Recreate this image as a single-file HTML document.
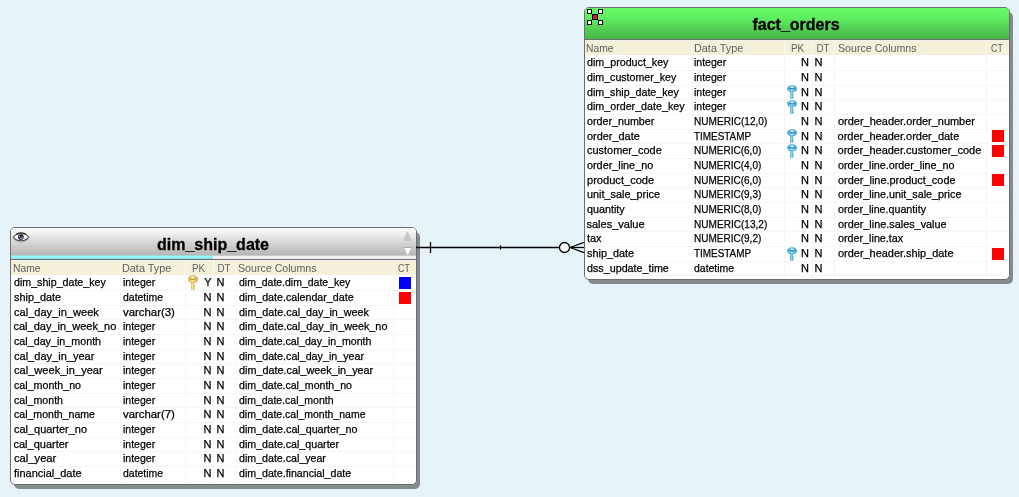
<!DOCTYPE html>
<html><head><meta charset="utf-8"><title>diagram</title>
<style>
html,body{margin:0;padding:0}
body{width:1019px;height:497px;background:#e6f4fa;position:relative;overflow:hidden;font-family:"Liberation Sans", sans-serif;font-size:11px;color:#000}
.shadow{position:absolute;background:#858b8d;border-radius:5px}
.box{position:absolute;border:1px solid #6e6e6e;border-radius:5px;background:#fff;overflow:hidden}
.title{position:relative;width:100%}
.title.gray{background:linear-gradient(#ffffff 0%,#f6f6f6 12%,#e0e0e0 40%,#cacaca 70%,#b7b7b7 100%)}
.title.green{background:linear-gradient(#66fb66 0%,#5fec5f 35%,#50c850 75%,#47b847 100%)}
.tt{position:absolute;width:100%;text-align:center;font-weight:bold;font-size:16px;line-height:18px;top:8px;-webkit-text-stroke:0.3px #000}
.prog{height:4px;background:linear-gradient(#c9c9c9 0,#c9c9c9 1px,#f4f4f4 1px,#ececec 4px);position:relative}
.progfill{position:absolute;left:0;top:0;height:4px;width:202px;background:linear-gradient(#a8d4d4 0,#a8d4d4 1px,#99ffff 1px,#86e2e2 4px)}
.sep{height:1px;background:#6e6e6e}
.hdr{position:relative;height:15px;background:#f5f0da;color:#5e5e5e;line-height:14px;box-shadow:inset 0 1px 0 #f2f2ee}
.h{position:absolute;top:1px;white-space:nowrap;transform-origin:0 50%}
.body{position:relative}
.row{position:absolute;left:0;right:0;height:14px;line-height:14px;white-space:nowrap}
.c{position:absolute;top:0;white-space:pre;transform-origin:0 50%;-webkit-text-stroke:0.25px #000}
.hl{position:absolute;left:0;right:0;height:1px;background:#f6f6f6}
.vl{position:absolute;top:47px;bottom:0;width:1px;background:#f6f6f6}
.vlh{position:absolute;top:32px;height:15px;width:1px;background:rgba(255,255,255,0.45)}
.sq{position:absolute;width:12px;height:12px}
.key{position:absolute}
.row,.hdr,.title{will-change:transform}
</style></head><body>
<svg width="0" height="0" style="position:absolute">
<defs>
<linearGradient id="gg" x1="0" y1="0" x2="1" y2="0"><stop offset="0" stop-color="#ddb040"/><stop offset="0.45" stop-color="#fbe9a6"/><stop offset="1" stop-color="#d9a836"/></linearGradient>
<linearGradient id="bg" x1="0" y1="0" x2="1" y2="0"><stop offset="0" stop-color="#3fa6d2"/><stop offset="0.45" stop-color="#9fe0f4"/><stop offset="1" stop-color="#3a9fcc"/></linearGradient>
<g id="keyg">
<rect x="3.1" y="7" width="3" height="8" rx="0.7" fill="url(#gg)"/>
<path d="M6.1 9.6l1.2 .55-1.2 .55zM6.1 11.3l1.2 .55-1.2 .55zM6.1 13l1.2 .55-1.2 .55z" fill="#d3a233"/>
<ellipse cx="5" cy="4.15" rx="4.6" ry="3.5" fill="url(#gg)" stroke="#dcae42" stroke-width="0.8"/>
<ellipse cx="5" cy="3.7" rx="2.9" ry="1.25" fill="#b09c2a"/>
<ellipse cx="5" cy="3" rx="2.1" ry="0.75" fill="#fff"/>
</g>
<g id="keyb">
<rect x="3" y="6.5" width="2.9" height="7.5" rx="0.7" fill="url(#bg)"/>
<path d="M5.9 8.9l1.3 .55-1.3 .55zM5.9 10.5l1.3 .55-1.3 .55zM5.9 12.1l1.3 .55-1.3 .55z" fill="#3a9fcc"/>
<ellipse cx="5.1" cy="3.75" rx="4.55" ry="3.05" fill="url(#bg)" stroke="#44a7d5" stroke-width="0.8"/>
<ellipse cx="5.1" cy="3.3" rx="3" ry="1.25" fill="#2a84be"/>
<ellipse cx="5.1" cy="2.6" rx="2" ry="0.7" fill="#fff"/>
</g>
</defs></svg>

<div class="shadow" style="left:14px;top:232px;width:406px;height:257px"></div>
<div class="box" id="b1" style="left:10px;top:227px;width:405px;height:256px">
<div class="title gray" style="height:27px"><span class="tt" style="left:-0.5px">dim_ship_date</span></div>
<div class="prog"><div class="progfill"></div></div>
<div class="sep"></div>
<div class="hdr">
<span class="h" style="left:2px;transform:scaleX(0.9395)">Name</span>
<span class="h" style="left:111px;transform:scaleX(0.9859)">Data Type</span>
<span class="h" style="left:173.8px;width:27px;text-align:center;transform-origin:50% 50%;transform:scaleX(0.8892)">PK</span>
<span class="h" style="left:201.7px;width:22px;text-align:center;transform-origin:50% 50%;transform:scaleX(0.8895)">DT</span>
<span class="h" style="left:227px;transform:scaleX(0.9664)">Source Columns</span>
<span class="h" style="left:382px;width:22px;text-align:center;transform-origin:50% 50%;transform:scaleX(0.8009)">CT</span>
</div>
<div class="body">
<i class="hl" style="top:15px"></i>
<i class="hl" style="top:30px"></i>
<i class="hl" style="top:44px"></i>
<i class="hl" style="top:59px"></i>
<i class="hl" style="top:74px"></i>
<i class="hl" style="top:88px"></i>
<i class="hl" style="top:103px"></i>
<i class="hl" style="top:118px"></i>
<i class="hl" style="top:132px"></i>
<i class="hl" style="top:147px"></i>
<i class="hl" style="top:162px"></i>
<i class="hl" style="top:176px"></i>
<i class="hl" style="top:191px"></i>
<i class="hl" style="top:206px"></i>
<div class="row" style="top:0px">
<span class="c" style="left:2.5px;transform:scaleX(0.9684)">dim_ship_date_key</span>
<span class="c" style="left:111.5px;transform:scaleX(0.9572)">integer</span>
<span class="c r" style="right:204.5px">Y</span>
<span class="c" style="left:205.4px">N</span>
<span class="c" style="left:227.8px;transform:scaleX(0.9529)">dim_date.dim_date_key</span>
</div>
<i class="sq" style="left:388px;top:2px;background:#0000ff"></i>
<svg class="key" style="left:177px;top:0px" width="12" height="16" viewBox="0 0 12 16"><use href="#keyg"/></svg>
<div class="row" style="top:15px">
<span class="c" style="left:2.5px;transform:scaleX(0.9870)">ship_date</span>
<span class="c" style="left:111.5px;transform:scaleX(0.9502)">datetime</span>
<span class="c r" style="right:204.5px">N</span>
<span class="c" style="left:205.4px">N</span>
<span class="c" style="left:227.8px;transform:scaleX(0.9709)">dim_date.calendar_date</span>
</div>
<i class="sq" style="left:388px;top:17px;background:#ff0000"></i>
<div class="row" style="top:30px">
<span class="c" style="left:2.5px;transform:scaleX(1.0049)">cal_day_in_week</span>
<span class="c" style="left:111.5px;transform:scaleX(1.0354)">varchar(3)</span>
<span class="c r" style="right:204.5px">N</span>
<span class="c" style="left:205.4px">N</span>
<span class="c" style="left:227.8px;transform:scaleX(0.9789)">dim_date.cal_day_in_week</span>
</div>
<div class="row" style="top:44px">
<span class="c" style="left:2.5px">cal_day_in_week_no</span>
<span class="c" style="left:111.5px;transform:scaleX(0.9572)">integer</span>
<span class="c r" style="right:204.5px">N</span>
<span class="c" style="left:205.4px">N</span>
<span class="c" style="left:227.8px;transform:scaleX(0.9824)">dim_date.cal_day_in_week_no</span>
</div>
<div class="row" style="top:59px">
<span class="c" style="left:2.5px;transform:scaleX(0.9754)">cal_day_in_month</span>
<span class="c" style="left:111.5px;transform:scaleX(0.9572)">integer</span>
<span class="c r" style="right:204.5px">N</span>
<span class="c" style="left:205.4px">N</span>
<span class="c" style="left:227.8px;transform:scaleX(0.9626)">dim_date.cal_day_in_month</span>
</div>
<div class="row" style="top:74px">
<span class="c" style="left:2.5px;transform:scaleX(1.0034)">cal_day_in_year</span>
<span class="c" style="left:111.5px;transform:scaleX(0.9572)">integer</span>
<span class="c r" style="right:204.5px">N</span>
<span class="c" style="left:205.4px">N</span>
<span class="c" style="left:227.8px;transform:scaleX(0.9734)">dim_date.cal_day_in_year</span>
</div>
<div class="row" style="top:88px">
<span class="c" style="left:2.5px;transform:scaleX(1.0072)">cal_week_in_year</span>
<span class="c" style="left:111.5px;transform:scaleX(0.9572)">integer</span>
<span class="c r" style="right:204.5px">N</span>
<span class="c" style="left:205.4px">N</span>
<span class="c" style="left:227.8px;transform:scaleX(0.9841)">dim_date.cal_week_in_year</span>
</div>
<div class="row" style="top:103px">
<span class="c" style="left:2.5px;transform:scaleX(0.9695)">cal_month_no</span>
<span class="c" style="left:111.5px;transform:scaleX(0.9572)">integer</span>
<span class="c r" style="right:204.5px">N</span>
<span class="c" style="left:205.4px">N</span>
<span class="c" style="left:227.8px;transform:scaleX(0.9615)">dim_date.cal_month_no</span>
</div>
<div class="row" style="top:118px">
<span class="c" style="left:2.5px;transform:scaleX(0.9652)">cal_month</span>
<span class="c" style="left:111.5px;transform:scaleX(0.9572)">integer</span>
<span class="c r" style="right:204.5px">N</span>
<span class="c" style="left:205.4px">N</span>
<span class="c" style="left:227.8px;transform:scaleX(0.9539)">dim_date.cal_month</span>
</div>
<div class="row" style="top:132px">
<span class="c" style="left:2.5px;transform:scaleX(0.9598)">cal_month_name</span>
<span class="c" style="left:111.5px;transform:scaleX(1.0334)">varchar(7)</span>
<span class="c r" style="right:204.5px">N</span>
<span class="c" style="left:205.4px">N</span>
<span class="c" style="left:227.8px;transform:scaleX(0.9533)">dim_date.cal_month_name</span>
</div>
<div class="row" style="top:147px">
<span class="c" style="left:2.5px;transform:scaleX(0.9947)">cal_quarter_no</span>
<span class="c" style="left:111.5px;transform:scaleX(0.9572)">integer</span>
<span class="c r" style="right:204.5px">N</span>
<span class="c" style="left:205.4px">N</span>
<span class="c" style="left:227.8px;transform:scaleX(0.9737)">dim_date.cal_quarter_no</span>
</div>
<div class="row" style="top:162px">
<span class="c" style="left:2.5px">cal_quarter</span>
<span class="c" style="left:111.5px;transform:scaleX(0.9572)">integer</span>
<span class="c r" style="right:204.5px">N</span>
<span class="c" style="left:205.4px">N</span>
<span class="c" style="left:227.8px;transform:scaleX(0.9686)">dim_date.cal_quarter</span>
</div>
<div class="row" style="top:176px">
<span class="c" style="left:2.5px;transform:scaleX(1.0174)">cal_year</span>
<span class="c" style="left:111.5px;transform:scaleX(0.9572)">integer</span>
<span class="c r" style="right:204.5px">N</span>
<span class="c" style="left:205.4px">N</span>
<span class="c" style="left:227.8px;transform:scaleX(0.9667)">dim_date.cal_year</span>
</div>
<div class="row" style="top:191px">
<span class="c" style="left:2.5px;transform:scaleX(0.9957)">financial_date</span>
<span class="c" style="left:111.5px;transform:scaleX(0.9502)">datetime</span>
<span class="c r" style="right:204.5px">N</span>
<span class="c" style="left:205.4px">N</span>
<span class="c" style="left:227.8px;transform:scaleX(0.9656)">dim_date.financial_date</span>
</div>
</div>
<i class="vl" style="left:109px"></i>
<i class="vlh" style="left:109px"></i>
<i class="vl" style="left:174px"></i>
<i class="vlh" style="left:174px"></i>
<i class="vl" style="left:202px"></i>
<i class="vlh" style="left:202px"></i>
<i class="vl" style="left:225px"></i>
<i class="vlh" style="left:225px"></i>
<i class="vl" style="left:382px"></i>
<i class="vlh" style="left:382px"></i>
</div>
<div class="shadow" style="left:588px;top:12px;width:425px;height:272px"></div>
<div class="box" id="b2" style="left:584px;top:7px;width:424px;height:271px">
<div class="title green" style="height:31px"><span class="tt" style="left:-1px">fact_orders</span></div>
<div class="sep"></div>
<div class="hdr">
<span class="h" style="left:1px;transform:scaleX(0.9395)">Name</span>
<span class="h" style="left:108.89999999999998px;transform:scaleX(0.9859)">Data Type</span>
<span class="h" style="left:199px;width:27px;text-align:center;transform-origin:50% 50%;transform:scaleX(0.8892)">PK</span>
<span class="h" style="left:227px;width:22px;text-align:center;transform-origin:50% 50%;transform:scaleX(0.8895)">DT</span>
<span class="h" style="left:253px;transform:scaleX(0.9664)">Source Columns</span>
<span class="h" style="left:401px;width:22px;text-align:center;transform-origin:50% 50%;transform:scaleX(0.8009)">CT</span>
</div>
<div class="body">
<i class="hl" style="top:15px"></i>
<i class="hl" style="top:30px"></i>
<i class="hl" style="top:44px"></i>
<i class="hl" style="top:59px"></i>
<i class="hl" style="top:74px"></i>
<i class="hl" style="top:88px"></i>
<i class="hl" style="top:103px"></i>
<i class="hl" style="top:118px"></i>
<i class="hl" style="top:132px"></i>
<i class="hl" style="top:147px"></i>
<i class="hl" style="top:162px"></i>
<i class="hl" style="top:176px"></i>
<i class="hl" style="top:191px"></i>
<i class="hl" style="top:206px"></i>
<i class="hl" style="top:220px"></i>
<div class="row" style="top:0px">
<span class="c" style="left:1.5px;transform:scaleX(0.9722)">dim_product_key</span>
<span class="c" style="left:109.29999999999995px;transform:scaleX(0.9572)">integer</span>
<span class="c r" style="right:200px">N</span>
<span class="c" style="left:229.60000000000002px">N</span>
</div>
<div class="row" style="top:15px">
<span class="c" style="left:1.5px;transform:scaleX(0.9672)">dim_customer_key</span>
<span class="c" style="left:109.29999999999995px;transform:scaleX(0.9572)">integer</span>
<span class="c r" style="right:200px">N</span>
<span class="c" style="left:229.60000000000002px">N</span>
</div>
<div class="row" style="top:30px">
<span class="c" style="left:1.5px;transform:scaleX(0.9684)">dim_ship_date_key</span>
<span class="c" style="left:109.29999999999995px;transform:scaleX(0.9572)">integer</span>
<span class="c r" style="right:200px">N</span>
<span class="c" style="left:229.60000000000002px">N</span>
</div>
<svg class="key" style="left:202px;top:30px" width="12" height="16" viewBox="0 0 12 16"><use href="#keyb"/></svg>
<div class="row" style="top:44px">
<span class="c" style="left:1.5px;transform:scaleX(0.9726)">dim_order_date_key</span>
<span class="c" style="left:109.29999999999995px;transform:scaleX(0.9572)">integer</span>
<span class="c r" style="right:200px">N</span>
<span class="c" style="left:229.60000000000002px">N</span>
</div>
<svg class="key" style="left:202px;top:45px" width="12" height="16" viewBox="0 0 12 16"><use href="#keyb"/></svg>
<div class="row" style="top:59px">
<span class="c" style="left:1.5px;transform:scaleX(0.9748)">order_number</span>
<span class="c" style="left:109.29999999999995px;transform:scaleX(0.9151)">NUMERIC(12,0)</span>
<span class="c r" style="right:200px">N</span>
<span class="c" style="left:229.60000000000002px">N</span>
<span class="c" style="left:252.60000000000002px;transform:scaleX(0.9950)">order_header.order_number</span>
</div>
<div class="row" style="top:74px">
<span class="c" style="left:1.5px;transform:scaleX(0.9921)">order_date</span>
<span class="c" style="left:109.29999999999995px;transform:scaleX(0.9014)">TIMESTAMP</span>
<span class="c r" style="right:200px">N</span>
<span class="c" style="left:229.60000000000002px">N</span>
<span class="c" style="left:252.60000000000002px">order_header.order_date</span>
</div>
<i class="sq" style="left:407px;top:75px;background:#ff0000"></i>
<svg class="key" style="left:202px;top:74px" width="12" height="16" viewBox="0 0 12 16"><use href="#keyb"/></svg>
<div class="row" style="top:88px">
<span class="c" style="left:1.5px;transform:scaleX(0.9944)">customer_code</span>
<span class="c" style="left:109.29999999999995px;transform:scaleX(0.9098)">NUMERIC(6,0)</span>
<span class="c r" style="right:200px">N</span>
<span class="c" style="left:229.60000000000002px">N</span>
<span class="c" style="left:252.60000000000002px">order_header.customer_code</span>
</div>
<i class="sq" style="left:407px;top:90px;background:#ff0000"></i>
<svg class="key" style="left:202px;top:89px" width="12" height="16" viewBox="0 0 12 16"><use href="#keyb"/></svg>
<div class="row" style="top:103px">
<span class="c" style="left:1.5px;transform:scaleX(0.9839)">order_line_no</span>
<span class="c" style="left:109.29999999999995px;transform:scaleX(0.9098)">NUMERIC(4,0)</span>
<span class="c r" style="right:200px">N</span>
<span class="c" style="left:229.60000000000002px">N</span>
<span class="c" style="left:252.60000000000002px;transform:scaleX(0.9769)">order_line.order_line_no</span>
</div>
<div class="row" style="top:118px">
<span class="c" style="left:1.5px;transform:scaleX(1.0079)">product_code</span>
<span class="c" style="left:109.29999999999995px;transform:scaleX(0.9098)">NUMERIC(6,0)</span>
<span class="c r" style="right:200px">N</span>
<span class="c" style="left:229.60000000000002px">N</span>
<span class="c" style="left:252.60000000000002px;transform:scaleX(0.9904)">order_line.product_code</span>
</div>
<i class="sq" style="left:407px;top:119px;background:#ff0000"></i>
<div class="row" style="top:132px">
<span class="c" style="left:1.5px;transform:scaleX(0.9878)">unit_sale_price</span>
<span class="c" style="left:109.29999999999995px;transform:scaleX(0.9098)">NUMERIC(9,3)</span>
<span class="c r" style="right:200px">N</span>
<span class="c" style="left:229.60000000000002px">N</span>
<span class="c" style="left:252.60000000000002px;transform:scaleX(0.9796)">order_line.unit_sale_price</span>
</div>
<div class="row" style="top:147px">
<span class="c" style="left:1.5px;transform:scaleX(0.9784)">quantity</span>
<span class="c" style="left:109.29999999999995px;transform:scaleX(0.9098)">NUMERIC(8,0)</span>
<span class="c r" style="right:200px">N</span>
<span class="c" style="left:229.60000000000002px">N</span>
<span class="c" style="left:252.60000000000002px;transform:scaleX(0.9722)">order_line.quantity</span>
</div>
<div class="row" style="top:162px">
<span class="c" style="left:1.5px">sales_value</span>
<span class="c" style="left:109.29999999999995px;transform:scaleX(0.9151)">NUMERIC(13,2)</span>
<span class="c r" style="right:200px">N</span>
<span class="c" style="left:229.60000000000002px">N</span>
<span class="c" style="left:252.60000000000002px;transform:scaleX(0.9866)">order_line.sales_value</span>
</div>
<div class="row" style="top:176px">
<span class="c" style="left:1.5px;transform:scaleX(0.9872)">tax</span>
<span class="c" style="left:109.29999999999995px;transform:scaleX(0.9098)">NUMERIC(9,2)</span>
<span class="c r" style="right:200px">N</span>
<span class="c" style="left:229.60000000000002px">N</span>
<span class="c" style="left:252.60000000000002px;transform:scaleX(0.9782)">order_line.tax</span>
</div>
<div class="row" style="top:191px">
<span class="c" style="left:1.5px;transform:scaleX(0.9870)">ship_date</span>
<span class="c" style="left:109.29999999999995px;transform:scaleX(0.9014)">TIMESTAMP</span>
<span class="c r" style="right:200px">N</span>
<span class="c" style="left:229.60000000000002px">N</span>
<span class="c" style="left:252.60000000000002px;transform:scaleX(0.9938)">order_header.ship_date</span>
</div>
<i class="sq" style="left:407px;top:193px;background:#ff0000"></i>
<svg class="key" style="left:202px;top:192px" width="12" height="16" viewBox="0 0 12 16"><use href="#keyb"/></svg>
<div class="row" style="top:206px">
<span class="c" style="left:1.5px;transform:scaleX(0.9764)">dss_update_time</span>
<span class="c" style="left:109.29999999999995px;transform:scaleX(0.9502)">datetime</span>
<span class="c r" style="right:200px">N</span>
<span class="c" style="left:229.60000000000002px">N</span>
</div>
</div>
<i class="vl" style="left:107px"></i>
<i class="vlh" style="left:107px"></i>
<i class="vl" style="left:199px"></i>
<i class="vlh" style="left:199px"></i>
<i class="vl" style="left:227px"></i>
<i class="vlh" style="left:227px"></i>
<i class="vl" style="left:249px"></i>
<i class="vlh" style="left:249px"></i>
<i class="vl" style="left:401px"></i>
<i class="vlh" style="left:401px"></i>
</div>

<!-- connector -->
<svg style="position:absolute;left:0;top:0" width="1019" height="497" viewBox="0 0 1019 497">
<g stroke="#000" stroke-width="1.3" fill="none">
<line x1="416" y1="247.5" x2="559" y2="247.5"/>
<line x1="430.5" y1="242" x2="430.5" y2="253"/>
<line x1="500.5" y1="245.5" x2="500.5" y2="249.5"/>
<line x1="570" y1="247.5" x2="584" y2="247.5"/>
<line x1="570" y1="247.5" x2="584" y2="242.4"/>
<line x1="570" y1="247.5" x2="584" y2="252.6"/>
<circle cx="564.5" cy="247.5" r="5" fill="#fff"/>
</g>
</svg>

<!-- box1 decorations -->
<svg style="position:absolute;left:12px;top:230.5px" width="20" height="14" viewBox="0 0 20 14">
<ellipse cx="9" cy="8.4" rx="7" ry="3.4" fill="#9a9a9a" opacity="0.4"/>
<path d="M1.3 6.3C3.8 1.5 14.2 1.5 16.7 6.3C14.2 10.8 3.8 10.8 1.3 6.3Z" fill="#fff" stroke="#444" stroke-width="1.1"/>
<path d="M3.8 3.4C6.5 1.3 11.5 1.3 14.2 3.4" fill="none" stroke="#222" stroke-width="1.2"/>
<circle cx="8.9" cy="6.1" r="2.9" fill="#25252f"/>
<circle cx="9.4" cy="6.9" r="1.7" fill="#7e7eae"/>
<circle cx="8.6" cy="5.5" r="1.1" fill="#1a1a22"/>
<circle cx="7.6" cy="5.2" r="0.55" fill="#fff"/>
</svg>
<svg style="position:absolute;left:403px;top:230px" width="11" height="28" viewBox="0 0 11 28">
<path d="M1 10.5L4.5 1.5L8.5 10.5Z" fill="#c6c6c6" stroke="#bdbdbd" stroke-width="0.6"/>
<path d="M1 17.5L4.6 26L8.5 17.5Z" fill="#fff" stroke="#c8c8c8" stroke-width="0.7"/>
<line x1="0.6" y1="17.5" x2="9" y2="17.5" stroke="#aaa" stroke-width="1"/>
</svg>
<!-- box2 icon -->
<svg style="position:absolute;left:587px;top:9px" width="16" height="16" viewBox="0 0 16 16" shape-rendering="crispEdges">
<g fill="#fff" stroke="#000" stroke-width="1">
<rect x="0.5" y="0.5" width="4" height="4"/><rect x="11.5" y="0.5" width="4" height="4"/>
<rect x="0.5" y="11.5" width="4" height="4"/><rect x="11.5" y="11.5" width="4" height="4"/>
<rect x="5.5" y="5.5" width="5" height="5" fill="#dd1c1c"/>
</g></svg>
</body></html>
